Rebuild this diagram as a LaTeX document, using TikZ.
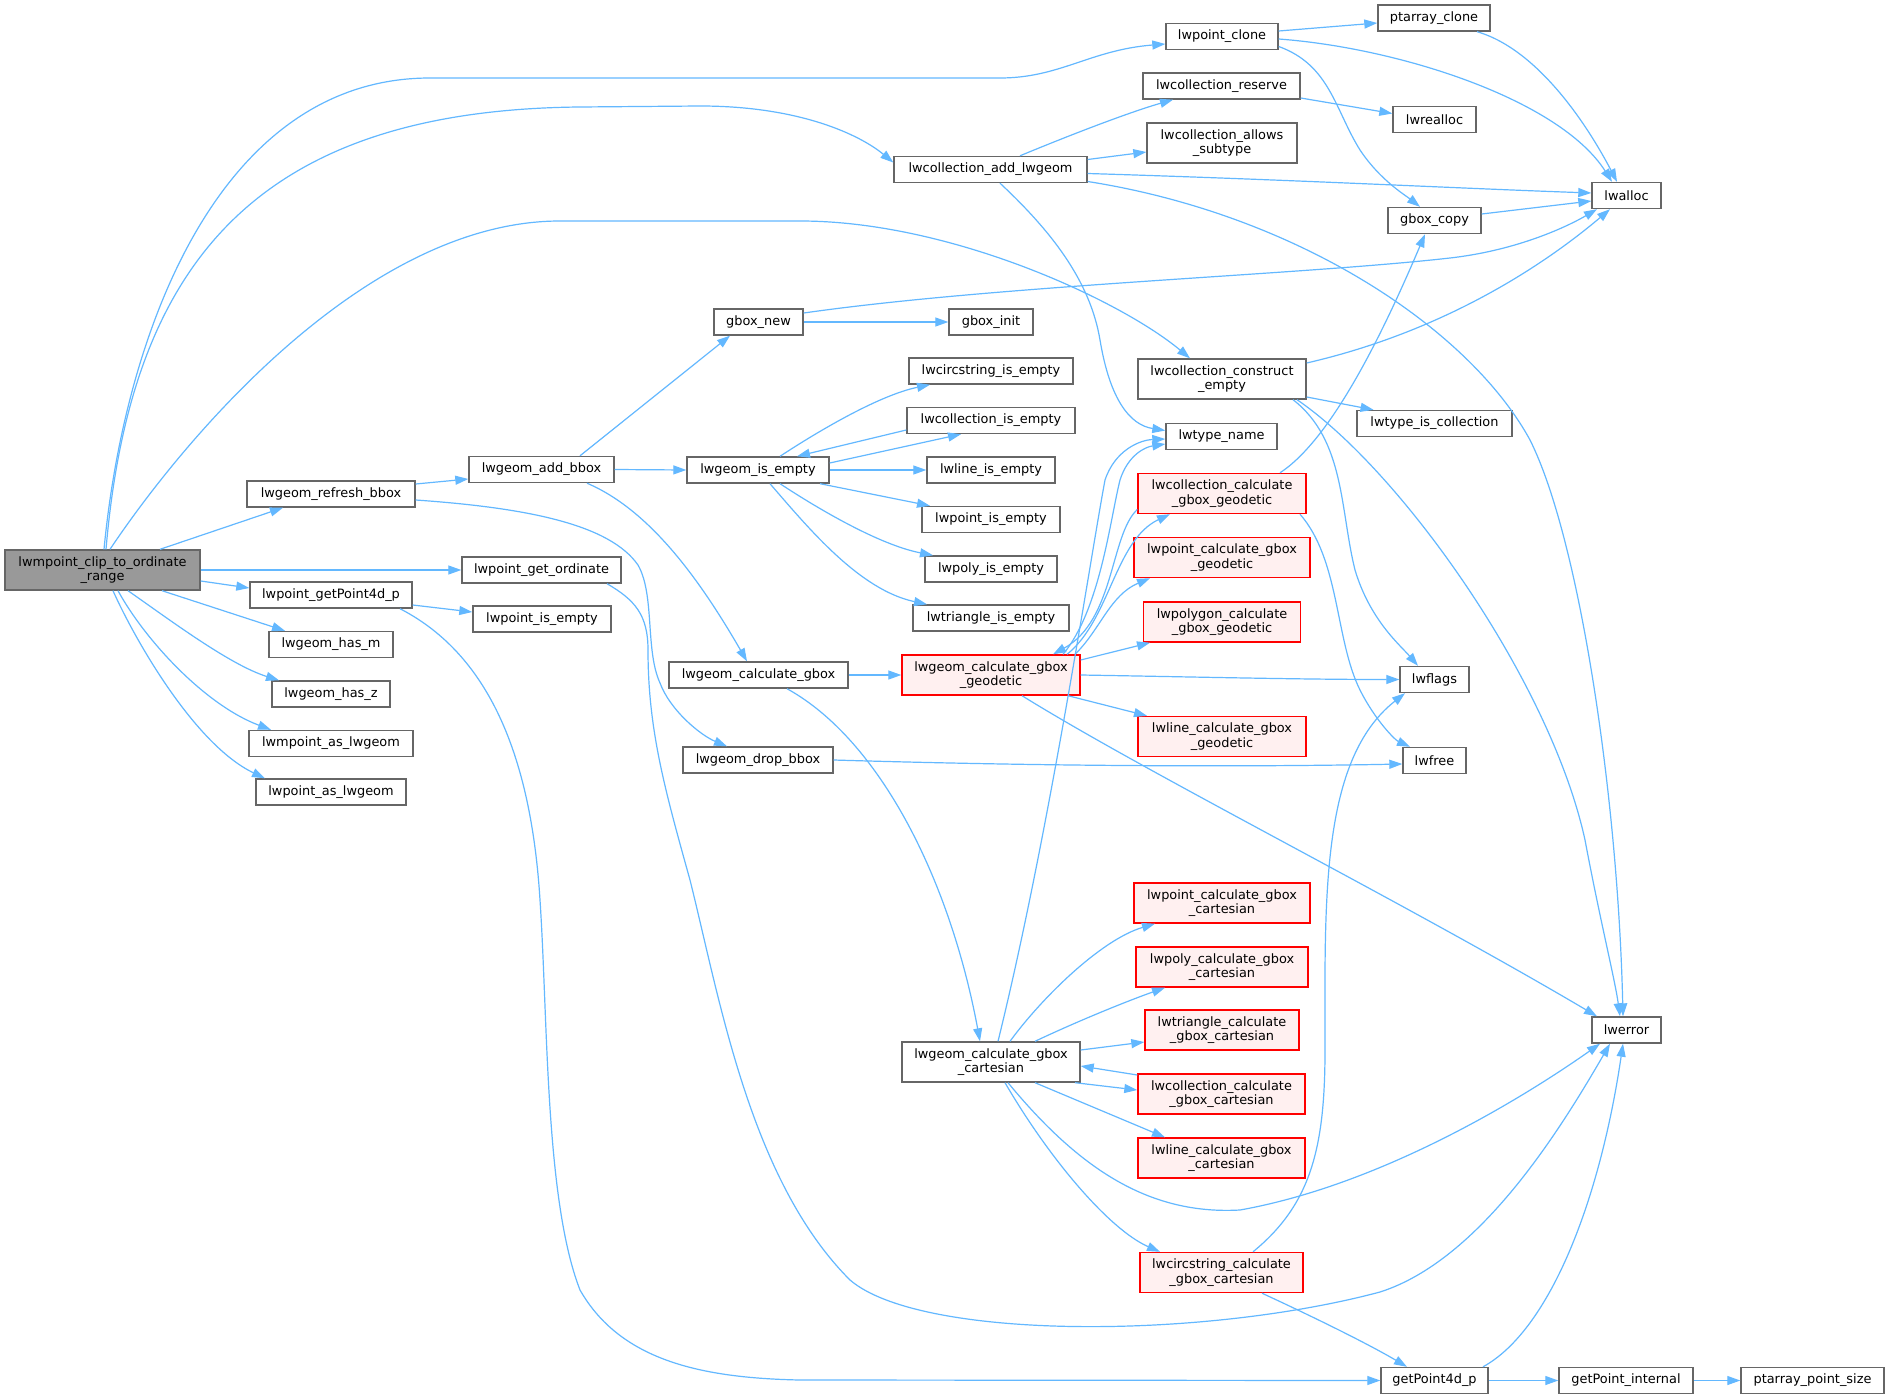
\documentclass[tikz,border=0pt]{standalone}
\usepackage{fontspec}
\setmainfont{DejaVu Sans}
\usetikzlibrary{arrows.meta}
\definecolor{edgec}{HTML}{63B8FF}
\definecolor{boxc}{HTML}{666666}
\definecolor{rootc}{HTML}{999999}
\definecolor{hotc}{HTML}{FF0000}
\definecolor{hotfill}{HTML}{FFF0F0}
\tikzset{
  box/.style={draw=boxc, fill=white, line width=1.4pt, inner sep=0pt, align=center,
    minimum height=26pt, font=\fontsize{12.9pt}{14.3pt}\selectfont},
  two/.style={minimum height=40pt},
  hot/.style={draw=hotc, fill=hotfill},
  rootbox/.style={fill=rootc},
  edge/.style={draw=edgec, line width=1.2pt, -{Triangle[length=13pt,width=9pt]}},
}
\begin{document}
\begin{tikzpicture}[x=1pt,y=-1pt]
\useasboundingbox (0,0) rectangle (1889,1399);
\fill[white] (0,0) rectangle (1889,1399);
% rank 0
\node[box,two,rootbox,minimum width=195pt] (R) at (102.5,570) {lwmpoint\_clip\_to\_ordinate\\\_range};
% rank 1
\node[box,minimum width=168pt] (refresh) at (331,494) {lwgeom\_refresh\_bbox};
\node[box,minimum width=162pt] (P4) at (331,595) {lwpoint\_getPoint4d\_p};
\node[box,minimum width=124pt] (hasm) at (331,644.5) {lwgeom\_has\_m};
\node[box,minimum width=118pt] (hasz) at (331,694) {lwgeom\_has\_z};
\node[box,minimum width=164pt] (mpas) at (331,743.5) {lwmpoint\_as\_lwgeom};
\node[box,minimum width=150pt] (pas) at (331,792) {lwpoint\_as\_lwgeom};
% rank 2
\node[box,minimum width=145pt] (AB) at (541.5,469.5) {lwgeom\_add\_bbox};
\node[box,minimum width=159pt] (GO) at (541.5,570) {lwpoint\_get\_ordinate};
\node[box,minimum width=138pt] (PIE2) at (542,619) {lwpoint\_is\_empty};
% rank 3
\node[box,minimum width=89pt] (gnew) at (758.5,322) {gbox\_new};
\node[box,minimum width=142pt] (IE) at (758,470) {lwgeom\_is\_empty};
\node[box,minimum width=179pt] (CG) at (758.5,675) {lwgeom\_calculate\_gbox};
\node[box,minimum width=150pt] (DB) at (758,760) {lwgeom\_drop\_bbox};
% rank 4
\node[box,minimum width=193pt] (CA) at (990.5,169.5) {lwcollection\_add\_lwgeom};
\node[box,minimum width=84pt] (ginit) at (991,322) {gbox\_init};
\node[box,minimum width=164pt] (circE) at (991,371) {lwcircstring\_is\_empty};
\node[box,minimum width=168pt] (collE) at (991,420.5) {lwcollection\_is\_empty};
\node[box,minimum width=128pt] (lineE) at (991,470) {lwline\_is\_empty};
\node[box,minimum width=138pt] (pointE) at (991,519.5) {lwpoint\_is\_empty};
\node[box,minimum width=132pt] (polyE) at (991,569) {lwpoly\_is\_empty};
\node[box,minimum width=156pt] (triE) at (991,618) {lwtriangle\_is\_empty};
\node[box,two,hot,minimum width=178pt] (GG) at (991,675) {lwgeom\_calculate\_gbox\\\_geodetic};
\node[box,two,minimum width=178pt] (GC) at (991,1062) {lwgeom\_calculate\_gbox\\\_cartesian};
% rank 5
\node[box,minimum width=112pt] (pclone) at (1222,36.5) {lwpoint\_clone};
\node[box,minimum width=157pt] (reserve) at (1221.5,86) {lwcollection\_reserve};
\node[box,two,minimum width=150pt] (allows) at (1222,143) {lwcollection\_allows\\\_subtype};
\node[box,two,minimum width=168pt] (CE) at (1222,379) {lwcollection\_construct\\\_empty};
\node[box,minimum width=111pt] (tname) at (1221.5,436.5) {lwtype\_name};
\node[box,two,hot,minimum width=168pt] (CCG) at (1222,493.5) {lwcollection\_calculate\\\_gbox\_geodetic};
\node[box,two,hot,minimum width=176pt] (PCG) at (1222,557.5) {lwpoint\_calculate\_gbox\\\_geodetic};
\node[box,two,hot,minimum width=157pt] (PolyCG) at (1222,622) {lwpolygon\_calculate\\\_gbox\_geodetic};
\node[box,two,hot,minimum width=168pt] (LCG) at (1222,736.5) {lwline\_calculate\_gbox\\\_geodetic};
\node[box,two,hot,minimum width=176pt] (PCC) at (1222,903) {lwpoint\_calculate\_gbox\\\_cartesian};
\node[box,two,hot,minimum width=172pt] (PolyCC) at (1222,967) {lwpoly\_calculate\_gbox\\\_cartesian};
\node[box,two,hot,minimum width=154pt] (TCC) at (1222,1030) {lwtriangle\_calculate\\\_gbox\_cartesian};
\node[box,two,hot,minimum width=167pt] (CCC) at (1221.5,1094) {lwcollection\_calculate\\\_gbox\_cartesian};
\node[box,two,hot,minimum width=167pt] (LCC) at (1221.5,1158) {lwline\_calculate\_gbox\\\_cartesian};
\node[box,two,hot,minimum width=163pt] (CirCC) at (1221.5,1272.5) {lwcircstring\_calculate\\\_gbox\_cartesian};
% rank 6
\node[box,minimum width=112pt] (ptclone) at (1434,18) {ptarray\_clone};
\node[box,minimum width=83pt] (realloc) at (1434.5,119.5) {lwrealloc};
\node[box,minimum width=93pt] (gcopy) at (1434.5,220.5) {gbox\_copy};
\node[box,minimum width=155pt] (tiscoll) at (1434.5,423.5) {lwtype\_is\_collection};
\node[box,minimum width=69pt] (flags) at (1434.5,679.5) {lwflags};
\node[box,minimum width=63pt] (free) at (1434.5,760.5) {lwfree};
\node[box,minimum width=107pt] (g4) at (1434.5,1380.5) {getPoint4d\_p};
% rank 7
\node[box,minimum width=69pt] (alloc) at (1626.5,195.5) {lwalloc};
\node[box,minimum width=69pt] (err) at (1626.5,1030) {lwerror};
\node[box,minimum width=134pt] (gpi) at (1626,1380.5) {getPoint\_internal};
% rank 8
\node[box,minimum width=143pt] (pps) at (1812.5,1380.5) {ptarray\_point\_size};

% edges from root
\draw[edge] ([xshift=1.5pt]R.north) .. controls (125,330) and (220,78) .. (430,78) -- (1000,78) .. controls (1060,78) and (1090,50) .. ([yshift=-7.5pt]pclone.west);
\draw[edge] ([xshift=3.5pt]R.north) .. controls (130,270) and (250,110) .. (580,107) -- (700,106) .. controls (800,106) and (860,135) .. ([yshift=7pt]CA.west);
\draw[edge] ([xshift=7.5pt]R.north) .. controls (190,430) and (370,221) .. (560,221) -- (800,221) .. controls (950,221) and (1120,300) .. ([xshift=-32pt]CE.north);
\draw[edge] ([xshift=57.5pt]R.north) -- ([xshift=-48pt]refresh.south);
\draw[edge] (R.east) -- (GO.west);
\draw[edge] ([yshift=-11pt]R.east) -- ([yshift=7pt]P4.west);
\draw[edge] ([xshift=59.5pt]R.south) -- ([xshift=-46pt]hasm.north);
\draw[edge] ([xshift=25.5pt]R.south) .. controls (170,620) and (230,665) .. ([xshift=-52pt]hasz.north);
\draw[edge] ([xshift=15.5pt]R.south) .. controls (145,640) and (205,705) .. ([xshift=-60pt]mpas.north);
\draw[edge] ([xshift=10.5pt]R.south) .. controls (135,640) and (195,745) .. ([xshift=-66pt]pas.north);
% rank 1
\draw[edge] ([yshift=10pt]refresh.east) -- ([yshift=-9.5pt]AB.west);
\draw[edge] ([yshift=-6pt]refresh.east) .. controls (530,508) and (610,525) .. (638,565) .. controls (655,595) and (645,650) .. (660,683) .. controls (670,710) and (700,735) .. ([xshift=-31pt]DB.north);
\draw[edge] ([yshift=-10pt]P4.east) -- ([yshift=7pt]PIE2.west);
\draw[edge] ([xshift=69pt]P4.south) .. controls (480,650) and (530,740) .. (540,900) .. controls (548,1020) and (545,1200) .. (580,1290) .. controls (620,1360) and (700,1378) .. (800,1380) -- (g4.west);
% rank 2
\draw[edge] ([xshift=38.5pt]AB.north) -- ([xshift=-28.5pt]gnew.south);
\draw[edge] (AB.east) -- (IE.west);
\draw[edge] ([xshift=45.5pt]AB.south) .. controls (650,510) and (700,580) .. ([xshift=-11.5pt]CG.north);
\draw[edge] ([xshift=65.5pt]GO.south) .. controls (635,600) and (648,615) .. (648,650) .. controls (648,730) and (665,790) .. (690,880) .. controls (720,1000) and (750,1180) .. (850,1280) .. controls (920,1340) and (1200,1340) .. (1380,1292) .. controls (1480,1260) and (1560,1130) .. ([xshift=-16.5pt]err.south);
% rank 3
\draw[edge] (gnew.east) -- (ginit.west);
\draw[edge] ([yshift=9pt]gnew.east) .. controls (1000,285) and (1300,275) .. (1450,258) .. controls (1520,250) and (1570,225) .. ([xshift=-29.5pt]alloc.south);
\draw[edge] ([xshift=22pt]IE.north) .. controls (820,430) and (880,395) .. ([xshift=-61pt]circE.south);
\draw[edge] ([yshift=7pt]IE.east) -- ([xshift=-30pt]collE.south);
\draw[edge] ([yshift=-9.5pt]collE.west) -- ([xshift=39pt]IE.north);
\draw[edge] (IE.east) -- (lineE.west);
\draw[edge] ([xshift=62pt]IE.south) -- ([xshift=-61pt]pointE.north);
\draw[edge] ([xshift=22pt]IE.south) .. controls (820,510) and (880,545) .. ([xshift=-58pt]polyE.north);
\draw[edge] ([xshift=12pt]IE.south) .. controls (810,530) and (860,590) .. ([xshift=-64pt]triE.north);
\draw[edge] (CG.east) -- (GG.west);
\draw[edge] ([xshift=28.5pt]CG.south) .. controls (880,740) and (950,880) .. ([xshift=-11pt]GC.north);
\draw[edge] (DB.east) .. controls (1100,768) and (1300,766) .. ([yshift=-3.5pt]free.west);
% rank 4
\draw[edge] ([xshift=29.5pt]CA.north) .. controls (1070,135) and (1130,112) .. ([xshift=-48.5pt]reserve.south);
\draw[edge] ([yshift=10pt]CA.east) -- ([yshift=-9pt]allows.west);
\draw[edge] ([yshift=-4pt]CA.east) .. controls (1300,180) and (1450,188) .. ([yshift=2.5pt]alloc.west);
\draw[edge] ([yshift=-12pt]CA.east) .. controls (1300,215) and (1470,330) .. (1530,440) .. controls (1580,540) and (1618,800) .. ([xshift=-3.5pt]err.north);
\draw[edge] ([xshift=9.5pt]CA.south) .. controls (1050,230) and (1090,280) .. (1100,340) .. controls (1110,400) and (1130,425) .. ([yshift=6pt]tname.west);
\draw[edge] ([xshift=72pt]GG.north) .. controls (1100,610) and (1110,520) .. (1120,480) .. controls (1128,455) and (1145,447) .. ([yshift=-7.5pt]tname.west);
\draw[edge] ([yshift=-16pt]CCG.west) .. controls (1110,535) and (1115,620) .. ([xshift=62pt]GG.north);
\draw[edge] ([xshift=76pt]GG.north) .. controls (1110,620) and (1115,540) .. ([xshift=-52pt]CCG.south);
\draw[edge] ([xshift=84pt]GG.north) .. controls (1100,630) and (1110,595) .. ([xshift=-72pt]PCG.south);
\draw[edge] ([yshift=15pt]GG.east) -- ([xshift=-72pt]PolyCG.south);
\draw[edge] (GG.east) .. controls (1200,677) and (1300,679.5) .. (flags.west);
\draw[edge] ([xshift=77pt]GG.south) -- ([xshift=-75pt]LCG.north);
\draw[edge] ([xshift=31pt]GG.south) .. controls (1150,775) and (1400,900) .. ([xshift=-29.5pt]err.north);
\draw[edge] ([xshift=7pt]GC.north) .. controls (1050,830) and (1090,560) .. (1105,480) .. controls (1115,450) and (1140,440) .. ([yshift=-2.5pt]tname.west);
\draw[edge] ([xshift=19pt]GC.north) .. controls (1040,1000) and (1100,940) .. ([xshift=-67pt]PCC.south);
\draw[edge] ([xshift=44pt]GC.north) .. controls (1080,1020) and (1130,1000) .. ([xshift=-57pt]PolyCC.south);
\draw[edge] ([yshift=12pt]GC.east) -- ([yshift=-12pt]TCC.west);
\draw[edge] ([yshift=19pt]CCC.west) -- ([yshift=-4pt]GC.east);
\draw[edge] ([xshift=84pt]GC.south) -- ([yshift=4pt]CCC.west);
\draw[edge] ([xshift=44pt]GC.south) -- ([xshift=-56.5pt]LCC.north);
\draw[edge] ([xshift=17pt]GC.south) .. controls (1080,1170) and (1150,1215) .. (1240,1210) .. controls (1380,1185) and (1520,1100) .. ([xshift=-26.5pt]err.south);
\draw[edge] ([xshift=14pt]GC.south) .. controls (1050,1160) and (1110,1230) .. ([xshift=-61.5pt]CirCC.north);
% rank 5
\draw[edge] ([yshift=5.5pt]pclone.east) -- ([yshift=-5pt]ptclone.west);
\draw[edge] ([yshift=-2.5pt]pclone.east) .. controls (1400,48) and (1560,100) .. ([xshift=-14.5pt]alloc.north);
\draw[edge] ([yshift=-10pt]pclone.east) .. controls (1330,65) and (1335,110) .. (1360,150) .. controls (1380,180) and (1405,195) .. ([xshift=-14.5pt]gcopy.north);
\draw[edge] ([yshift=-12pt]reserve.east) -- ([yshift=6pt]realloc.west);
\draw[edge] ([yshift=16pt]CE.east) .. controls (1450,330) and (1550,260) .. ([xshift=-16.5pt]alloc.south);
\draw[edge] ([yshift=-18pt]CE.east) -- ([xshift=-61pt]tiscoll.north);
\draw[edge] ([xshift=71pt]CE.south) .. controls (1345,440) and (1340,510) .. (1355,570) .. controls (1370,620) and (1400,645) .. ([xshift=-16.5pt]flags.north);
\draw[edge] ([xshift=75pt]CE.south) .. controls (1400,470) and (1550,680) .. (1585,840) .. controls (1600,920) and (1615,980) .. ([xshift=-6.5pt]err.north);
\draw[edge] ([xshift=58pt]CCG.north) .. controls (1330,440) and (1380,340) .. ([xshift=-9.5pt]gcopy.south);
\draw[edge] ([xshift=78pt]CCG.south) .. controls (1340,560) and (1335,640) .. (1360,690) .. controls (1375,720) and (1395,740) .. ([xshift=-24.5pt]free.north);
\draw[edge] ([xshift=31.5pt]CirCC.north) .. controls (1310,1205) and (1325,1150) .. (1325,1050) .. controls (1325,900) and (1320,760) .. ([xshift=-29.5pt]flags.south);
\draw[edge] ([xshift=40.5pt]CirCC.south) .. controls (1320,1320) and (1370,1345) .. ([xshift=-27.5pt]g4.north);
% rank 6
\draw[edge] ([xshift=43pt]ptclone.south) .. controls (1540,50) and (1590,130) .. ([xshift=-9.5pt]alloc.north);
\draw[edge] ([yshift=6.5pt]gcopy.east) -- ([yshift=-5.5pt]alloc.west);
\draw[edge] (g4.east) -- (gpi.west);
\draw[edge] ([xshift=48.5pt]g4.north) .. controls (1550,1330) and (1600,1200) .. ([xshift=-3.5pt]err.south);
% rank 7
\draw[edge] (gpi.east) -- (pps.west);
\end{tikzpicture}
\end{document}
